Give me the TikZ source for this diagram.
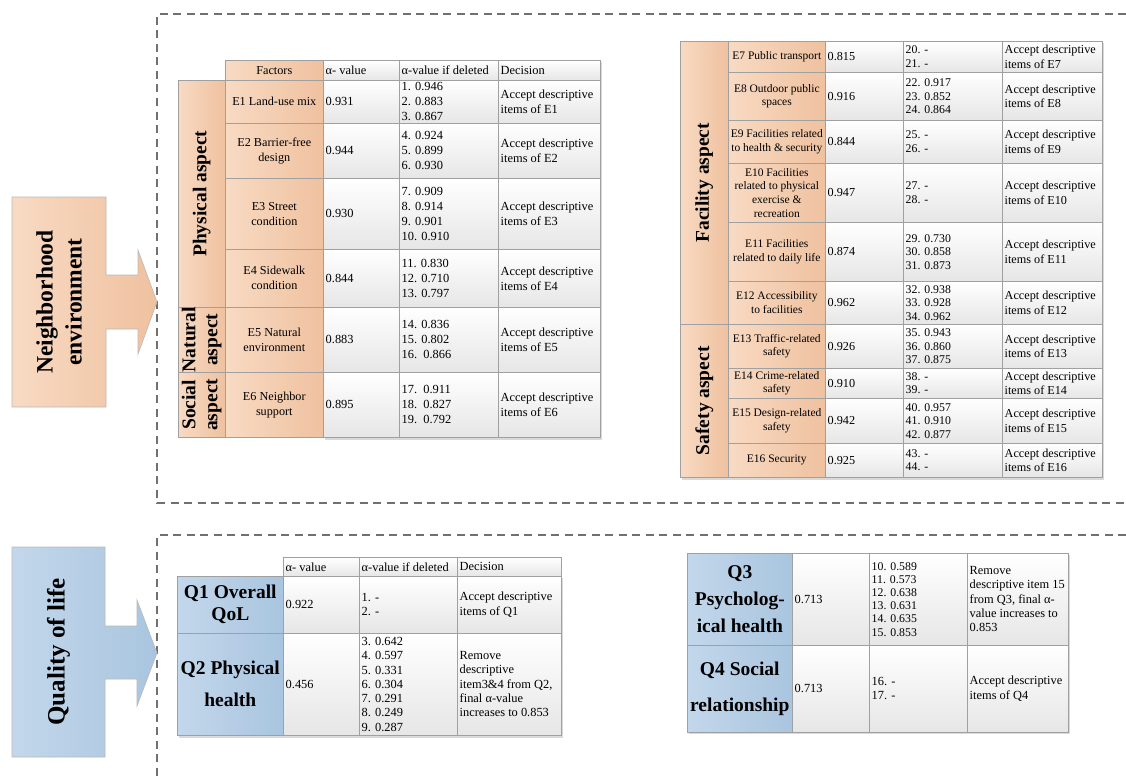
\documentclass[tikz,border=0pt]{standalone}
\usepackage{fontspec}
\setmainfont{Liberation Serif}
\definecolor{peachL}{HTML}{F8DAC3}
\definecolor{peachR}{HTML}{EFC19F}
\definecolor{blueL}{HTML}{C3D7EB}
\definecolor{blueR}{HTML}{A9C5DF}
\definecolor{gridc}{HTML}{A0A0A0}
\definecolor{framec}{HTML}{707070}
\definecolor{cellbot}{HTML}{E6E6E6}
\definecolor{shadowc}{HTML}{D9D9D9}
% one table cell: box style, name, top-left corner, width, height, text style, text anchor on box, text
\newcommand{\tcell}[8]{%
  \node[#1, anchor=north west, minimum width=#4pt, minimum height=#5pt] (#2) at (#3) {};
  \node[#6] (#2t) at (#2.#7) {#8};}
% rows of the environment tables: y, height, id, factor, alpha, alpha if deleted, decision
\newcommand{\tlrow}[7]{%
  \tcell{ocell}{#3f}{225,#1}{98}{#2}{ctA}{center}{#4}
  \tcell{vcell}{#3v}{323,#1}{76}{#2}{ltA}{west}{#5}
  \tcell{vcell}{#3d}{399,#1}{99}{#2}{ltA}{west}{#6}
  \tcell{vcell}{#3c}{498,#1}{102}{#2}{ltA}{west}{#7}}
\newcommand{\trrow}[7]{%
  \tcell{ocell}{#3f}{728,#1}{97}{#2}{ctB}{center}{#4}
  \tcell{vcell}{#3v}{825,#1}{78}{#2}{ltBd}{west}{#5}
  \tcell{vcell}{#3d}{903,#1}{99}{#2}{ltB}{west}{#6}
  \tcell{vcell}{#3c}{1002,#1}{100}{#2}{ltBd}{west}{#7}}
\tikzset{
  cellbase/.style={draw=gridc, line width=0.6pt, inner sep=0pt},
  ocell/.style={cellbase, left color=peachL, right color=peachR},
  vcell/.style={cellbase, top color=white, bottom color=cellbot},
  bcell/.style={cellbase, left color=blueL, right color=blueR},
  ctext/.style={align=center, inner sep=0pt},
  ltext/.style={align=left, inner sep=0pt, anchor=west, xshift=2.5pt},
  ctA/.style={ctext, font=\fontsize{12.2}{15}\selectfont},
  ltA/.style={ltext, font=\fontsize{12.4}{15}\selectfont},
  ctB/.style={ctext, font=\fontsize{11.5}{13.6}\selectfont},
  ltB/.style={ltext, font=\fontsize{11.8}{13.4}\selectfont},
  ltBd/.style={ltext, font=\fontsize{12.2}{14.5}\selectfont},
  ltC/.style={ltext, font=\fontsize{12.4}{14.3}\selectfont},
  ltCs/.style={ltext, font=\fontsize{11.8}{13.2}\selectfont},
  asp/.style={ctext, rotate=90, font=\bfseries\fontsize{19.5}{22}\selectfont},
  qlab/.style={ctext, font=\bfseries\fontsize{19.5}{#1}\selectfont},
  qlab/.default=22,
  dframe/.style={draw=framec, line width=1.6pt, dash pattern=on 8pt off 5.5pt},
  bigshape/.style={draw=gray!55, line width=0.6pt},
  bigtext/.style={rotate=90, align=center, inner sep=0pt, font=\bfseries\fontsize{23.5}{29}\selectfont},
  tshadow/.style={fill=shadowc},
}
\begin{document}
\begin{tikzpicture}[x=1pt, y=-1pt]
\useasboundingbox (0,0) rectangle (1126,776);
\fill[white] (0,0) rectangle (1126,776);

% dashed frames of the two groups
\draw[dframe] (1126,14) -- (157,14) -- (157,503) -- (1126,503);
\draw[dframe] (1126,535) -- (157,535) -- (157,776);

% group arrows
\shade[left color=peachL, right color=peachR] (12,197) -- (106,197) -- (106,275) -- (138,275) -- (138,250) -- (157,302) -- (138,354) -- (138,329) -- (106,329) -- (106,407) -- (12,407) -- cycle;
\draw[bigshape] (12,197) -- (106,197) -- (106,275) -- (138,275) -- (138,250) -- (157,302) -- (138,354) -- (138,329) -- (106,329) -- (106,407) -- (12,407) -- cycle;
\node[bigtext] (nbh) at (59,302) {Neighborhood\\environment};

\shade[left color=blueL, right color=blueR] (12,547) -- (105,547) -- (105,626) -- (137,626) -- (137,600) -- (157,653) -- (137,706) -- (137,679) -- (105,679) -- (105,757) -- (12,757) -- cycle;
\draw[bigshape] (12,547) -- (105,547) -- (105,626) -- (137,626) -- (137,600) -- (157,653) -- (137,706) -- (137,679) -- (105,679) -- (105,757) -- (12,757) -- cycle;
\node[bigtext, font=\bfseries\fontsize{25}{29}\selectfont] (qol) at (58.5,652) {Quality of life};

% soft shadows under the tables
\fill[tshadow] (325,62) rectangle (602,440);
\fill[tshadow] (682,43) rectangle (1104,480);
\fill[tshadow] (179,578) rectangle (563,738);
\fill[tshadow] (689,555) rectangle (1070,734);

% ---------- environment table, left part ----------
\tcell{ocell}{tlhf}{225,60}{98}{20}{ctA}{center}{Factors}
\tcell{vcell}{tlhv}{323,60}{76}{20}{ltA}{west}{α- value}
\tcell{vcell}{tlhd}{399,60}{99}{20}{ltA}{west}{α-value if deleted}
\tcell{vcell}{tlhc}{498,60}{102}{20}{ltA}{west}{Decision}

\tlrow{80}{43}{e1}{E1 Land-use mix}{0.931}{1. 0.946\\2. 0.883\\3. 0.867}{Accept descriptive\\items of E1}
\tlrow{123}{55}{e2}{E2 Barrier-free\\design}{0.944}{4. 0.924\\5. 0.899\\6. 0.930}{Accept descriptive\\items of E2}
\tlrow{178}{71}{e3}{E3 Street\\condition}{0.930}{7. 0.909\\8. 0.914\\9. 0.901\\10. 0.910}{Accept descriptive\\items of E3}
\tlrow{249}{58}{e4}{E4 Sidewalk\\condition}{0.844}{11. 0.830\\12. 0.710\\13. 0.797}{Accept descriptive\\items of E4}
\tlrow{307}{65}{e5}{E5 Natural\\environment}{0.883}{14. 0.836\\15. 0.802\\16.\ \ 0.866}{Accept descriptive\\items of E5}
\tlrow{372}{65}{e6}{E6 Neighbor\\support}{0.895}{17.\ \ 0.911\\18.\ \ 0.827\\19.\ \ 0.792}{Accept descriptive\\items of E6}

\tcell{ocell}{phys}{178,80}{47}{227}{asp}{center}{Physical aspect}
\tcell{ocell}{natu}{178,307}{47}{65}{asp}{center}{Natural\\aspect}
\tcell{ocell}{soci}{178,372}{47}{65}{asp}{center}{Social\\aspect}

% ---------- environment table, right part ----------
\trrow{41}{31}{e7}{E7 Public transport}{0.815}{20. -\\21. -}{Accept descriptive\\items of E7}
\trrow{72}{48}{e8}{E8 Outdoor public\\spaces}{0.916}{22. 0.917\\23. 0.852\\24. 0.864}{Accept descriptive\\items of E8}
\trrow{120}{43}{e9}{E9 Facilities related\\to health \& security}{0.844}{25. -\\26. -}{Accept descriptive\\items of E9}
\trrow{163}{59}{e10}{E10 Facilities\\related to physical\\exercise \&\\recreation}{0.947}{27. -\\28. -}{Accept descriptive\\items of E10}
\trrow{222}{59}{e11}{E11 Facilities\\related to daily life}{0.874}{29. 0.730\\30. 0.858\\31. 0.873}{Accept descriptive\\items of E11}
\trrow{281}{43}{e12}{E12 Accessibility\\to facilities}{0.962}{32. 0.938\\33. 0.928\\34. 0.962}{Accept descriptive\\items of E12}
\trrow{324}{44}{e13}{E13 Traffic-related\\safety}{0.926}{35. 0.943\\36. 0.860\\37. 0.875}{Accept descriptive\\items of E13}
\trrow{368}{30}{e14}{E14 Crime-related\\safety}{0.910}{38. -\\39. -}{Accept descriptive\\items of E14}
\trrow{398}{45}{e15}{E15 Design-related\\safety}{0.942}{40. 0.957\\41. 0.910\\42. 0.877}{Accept descriptive\\items of E15}
\trrow{443}{34}{e16}{E16 Security}{0.925}{43. -\\44. -}{Accept descriptive\\items of E16}

\tcell{ocell}{faci}{680,41}{48}{283}{asp}{center}{Facility aspect}
\tcell{ocell}{safe}{680,324}{48}{153}{asp}{center}{Safety aspect}

% ---------- quality of life table, left part ----------
\tcell{vcell}{blhv}{283,557}{76}{19}{ltC}{west}{α- value}
\tcell{vcell}{blhd}{359,557}{98}{19}{ltC}{west}{α-value if deleted}
\tcell{vcell}{blhc}{457,557}{104}{19}{ltC}{west}{Decision}

\tcell{bcell}{q1l}{177,576}{106}{57}{qlab}{center}{Q1 Overall\\QoL}
\tcell{vcell}{q1v}{283,576}{76}{57}{ltC}{west}{0.922}
\tcell{vcell}{q1d}{359,576}{98}{57}{ltC}{west}{1. -\\2. -}
\tcell{vcell}{q1c}{457,576}{104}{57}{ltC}{west}{Accept descriptive\\items of Q1}

\tcell{bcell}{q2l}{177,633}{106}{102}{qlab=32}{center}{Q2 Physical\\health}
\tcell{vcell}{q2v}{283,633}{76}{102}{ltC}{west}{0.456}
\tcell{vcell}{q2d}{359,633}{98}{102}{ltC}{west}{3. 0.642\\4. 0.597\\5. 0.331\\6. 0.304\\7. 0.291\\8. 0.249\\9. 0.287}
\tcell{vcell}{q2c}{457,633}{104}{102}{ltC}{west}{Remove\\descriptive\\item3\&4 from Q2,\\final α-value\\increases to 0.853}

% ---------- quality of life table, right part ----------
\tcell{bcell}{q3l}{687,553}{105}{92}{qlab=27}{center}{Q3\\Psycholog-\\ical health}
\tcell{vcell}{q3v}{792,553}{77}{92}{ltC}{west}{0.713}
\tcell{vcell}{q3d}{869,553}{98}{92}{ltCs}{west}{10. 0.589\\11. 0.573\\12. 0.638\\13. 0.631\\14. 0.635\\15. 0.853}
\tcell{vcell}{q3c}{967,553}{101}{92}{ltC}{west}{Remove\\descriptive item 15\\from Q3, final α-\\value increases to\\0.853}

\tcell{bcell}{q4l}{687,645}{105}{87}{qlab=36}{center}{Q4 Social\\relationship}
\tcell{vcell}{q4v}{792,645}{77}{87}{ltC}{west}{0.713}
\tcell{vcell}{q4d}{869,645}{98}{87}{ltC}{west}{16. -\\17. -}
\tcell{vcell}{q4c}{967,645}{101}{87}{ltC}{west}{Accept descriptive\\items of Q4}
\end{tikzpicture}
\end{document}
